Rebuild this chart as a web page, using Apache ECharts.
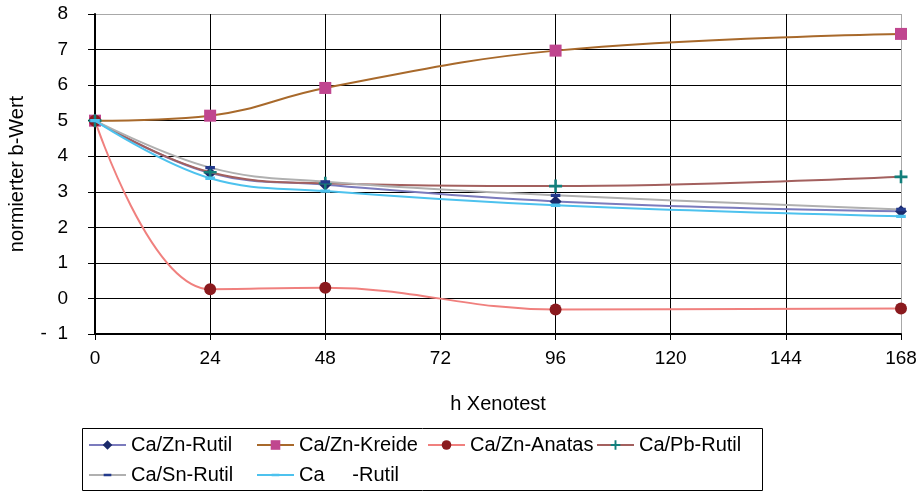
<!DOCTYPE html>
<html>
<head>
<meta charset="utf-8">
<script src="https://cdn.jsdelivr.net/npm/echarts@6/dist/echarts.min.js"></script>
<style>
html,body{margin:0;padding:0;background:#fff;}
#chart{width:923px;height:492px;}
</style>
</head>
<body>
<div id="chart"></div>
<script>
// Data
const hours = [0, 24, 48, 96, 168];
const seriesNames = ['Ca/Zn-Rutil', 'Ca/Zn-Kreide', 'Ca/Zn-Anatas', 'Ca/Pb-Rutil', 'Ca/Sn-Rutil', 'Ca     -Rutil'];
const znRutil  = [5, 3.53, 3.2, 2.73, 2.45];
const znKreide = [5, 5.14, 5.92, 6.97, 7.44];
const znAnatas = [5, 0.26, 0.3, -0.31, -0.28];
const pbRutil  = [5, 3.55, 3.24, 3.16, 3.42];
const snRutil  = [5, 3.68, 3.28, 2.9, 2.5];
const caRutil  = [5, 3.38, 3.02, 2.62, 2.31];
const xTicks = [0, 24, 48, 72, 96, 120, 144, 168];
const yTicks = [-1, 0, 1, 2, 3, 4, 5, 6, 7, 8];

const FONT = 'Liberation Sans, Arial, sans-serif';
const plusPath = 'path://M4,0H6V4H10V6H6V10H4V6H0V4H4Z';
const dashPath = 'path://M0,0L0.01,0L0.01,0.01ZM10,10L10.01,10L10.01,10.01ZM1,3.6H9V6.4H1Z';

const styles = [
  {line: '#7b7bbd', mark: '#1b2a6b', symbol: 'diamond', size: 12},
  {line: '#a8692b', mark: '#c0468f', symbol: 'rect', size: 12},
  {line: '#f0807e', mark: '#8a1a1e', symbol: 'circle', size: 12},
  {line: '#a3605e', mark: '#127f7b', symbol: plusPath, size: 13},
  {line: '#b0b0b0', mark: '#233a8c', symbol: dashPath, size: 12},
  {line: '#4dc2ee', mark: '#4dc2ee', symbol: dashPath, size: 12}
];
const values = [znRutil, znKreide, znAnatas, pbRutil, snRutil, caRutil];

const series = values.map((vals, i) => ({
  name: seriesNames[i],
  type: 'line',
  smooth: 0.4,
  data: hours.map((h, k) => [h, vals[k]]),
  symbol: styles[i].symbol,
  symbolSize: styles[i].size,
  symbolKeepAspect: true,
  showSymbol: true,
  lineStyle: {color: styles[i].line, width: 2},
  itemStyle: {color: styles[i].mark, borderWidth: 0},
  color: styles[i].line,
  z: 2 + i
}));

// Legend positions (one legend per item)
const legendPos = [
  [88, 0], [256, 0], [427, 0], [596, 0],
  [88, 1], [256, 1]
];
const rowTop = [435, 465];
const legends = seriesNames.map((n, i) => ({
  data: [n],
  left: legendPos[i][0],
  top: rowTop[legendPos[i][1]],
  itemWidth: 37,
  itemHeight: 12,
  itemGap: 0,
  padding: 0,
  textStyle: {fontFamily: FONT, fontSize: 20, color: '#000', padding: [0, 0, 0, 0]},
  selectedMode: false
}));

const chart = echarts.init(document.getElementById('chart'));
chart.setOption({
  animation: false,
  backgroundColor: '#fff',
  grid: {left: 95, right: 22, top: 14, bottom: 158, containLabel: false, outerBoundsMode: 'none'},
  legend: legends,
  graphic: [{
    type: 'rect',
    shape: {x: 82.5, y: 428.5, width: 680, height: 62},
    style: {fill: 'none', stroke: '#000', lineWidth: 1},
    z: 0
  }],
  xAxis: {
    type: 'value', min: 0, max: 168, interval: 24,
    name: 'h Xenotest', nameLocation: 'middle', nameGap: 60,
    nameTextStyle: {fontFamily: FONT, fontSize: 20, color: '#000'},
    axisLine: {show: true, onZero: false, lineStyle: {color: '#000', width: 2}},
    axisTick: {show: true, length: 6, lineStyle: {color: '#000', width: 1}},
    axisLabel: {fontFamily: FONT, fontSize: 19, color: '#000', margin: 15,
      formatter: v => xTicks.includes(v) ? String(v) : ''},
    splitLine: {show: true, lineStyle: {color: ['#000', '#000', '#000', '#000', '#000', '#000', '#000', '#a8a8a8'], width: 1}}
  },
  yAxis: {
    type: 'value', min: -1, max: 8, interval: 1,
    name: 'normierter b-Wert', nameLocation: 'middle', nameGap: 68, nameRotate: 90,
    nameTextStyle: {fontFamily: FONT, fontSize: 20, color: '#000'},
    axisLine: {show: true, onZero: false, lineStyle: {color: '#000', width: 2}},
    axisTick: {show: true, length: 7, lineStyle: {color: '#000', width: 1}},
    axisLabel: {fontFamily: FONT, fontSize: 19, color: '#000', margin: 27,
      formatter: v => yTicks.includes(v) ? (v === -1 ? '-  1' : String(v)) : ''},
    splitLine: {show: true, lineStyle: {color: ['#000', '#000', '#000', '#000', '#000', '#000', '#000', '#000', '#000', '#a8a8a8'], width: 1}}
  },
  series: series
});
</script>
</body>
</html>
